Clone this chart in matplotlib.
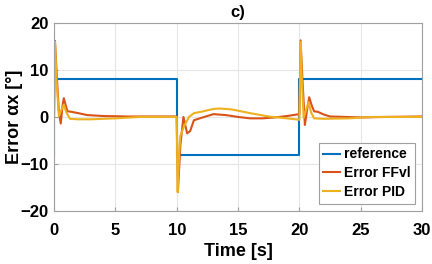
import matplotlib
matplotlib.use("Agg")
import matplotlib.pyplot as plt

plt.rcParams['font.family'] = ['Liberation Sans', 'DejaVu Sans']

# reference signal
t_ref = [0, 0, 10, 10, 20, 20, 30]
v_ref = [-8, 8, 8, -8, -8, 8, 8]

# Error FFvl
t_ff = [0, 0.08, 0.2, 0.4, 0.55, 0.7, 0.8, 0.95, 1.1, 1.4, 2.0, 2.7, 4, 6, 8, 10.0,
        10.1, 10.3, 10.55, 10.85, 11.1, 11.4, 12, 13, 14, 15, 16, 17, 18, 19, 20.0,
        20.1, 20.25, 20.45, 20.6, 20.8, 21.0, 21.2, 21.5, 22, 22.5, 25, 27, 30]
v_ff = [0, 16.2, 10, 1, -1.4, 2.5, 4.0, 2.5, 1.2, 1.1, 0.8, 0.4, 0.2, 0.1, 0.1, 0.1,
        -16, -6, 0, -3.5, -3, -0.7, -0.2, 0.6, 0.4, 0, -0.3, -0.3, -0.1, 0.2, 0.6,
        16.3, 8, -1.7, 1, 4.2, 2.5, 1.2, 1.1, 0.5, 0.1, -0.1, 0, 0.1]

# Error PID
t_pid = [0, 0.08, 0.2, 0.4, 0.6, 0.8, 1.0, 1.3, 2, 3, 5, 7, 10,
         10.08, 10.2, 10.3, 10.6, 11.0, 11.4, 12, 13, 13.5, 14.5, 16, 17.5, 19, 20,
         20.1, 20.2, 20.35, 20.55, 20.75, 20.95, 21.2, 22, 24, 26, 30]
v_pid = [0, 16, 8, 0.2, 1.5, 2.6, 1, -0.4, -0.5, -0.5, -0.3, 0, 0,
         -16, -8, -4, -2, 0, 0.8, 1.1, 1.7, 1.8, 1.6, 0.8, 0.1, -0.3, -0.6,
         16, 8, -0.2, 1.5, 3.2, 1, -0.3, -0.4, -0.3, 0, 0]

c_blue = (0, 0.447, 0.741)
c_orange = (0.85, 0.325, 0.098)
c_yellow = (0.929, 0.694, 0.125)

fig = plt.figure(figsize=(4.32, 2.64), dpi=100)
ax = fig.add_axes([0.125, 0.201, 0.852, 0.712])
ax.plot(t_ref, v_ref, color=c_blue, lw=1.5, label='reference')
ax.plot(t_ff, v_ff, color=c_orange, lw=1.5, label='Error FFvl')
ax.plot(t_pid, v_pid, color=c_yellow, lw=1.5, label='Error PID')

ax.set_xlim(0, 30)
ax.set_ylim(-20, 20)
ax.set_xticks([0, 5, 10, 15, 20, 25, 30])
ax.set_yticks([-20, -10, 0, 10, 20])
ax.grid(True, color='#e6e6e6', lw=0.8)
ax.set_axisbelow(True)
for s in ax.spines.values():
    s.set_color('#a0a0a0')
    s.set_linewidth(0.8)
ax.tick_params(axis='both', labelsize=12, length=3, color='#a0a0a0', direction='in')
ax.tick_params(axis='x', pad=9)
ax.tick_params(axis='y', pad=4)
for lbl in ax.get_xticklabels() + ax.get_yticklabels():
    lbl.set_fontweight('bold')
ax.set_xlabel('Time [s]', fontsize=13, fontweight='bold', labelpad=3)
ax.set_ylabel('Error αx [°]', fontsize=13, fontweight='bold')
ax.yaxis.set_label_coords(-0.085, 0.5)
ax.set_title('c)', fontsize=12, fontweight='bold', pad=4)

leg = ax.legend(loc='lower right', prop={'weight': 'bold', 'size': 10}, fancybox=False,
                framealpha=1, edgecolor='#a0a0a0', handlelength=1.2, handletextpad=0.25,
                borderpad=0.35, labelspacing=0.35, borderaxespad=0.5)
leg.get_frame().set_linewidth(0.8)

fig.savefig('out.png', dpi=100)
